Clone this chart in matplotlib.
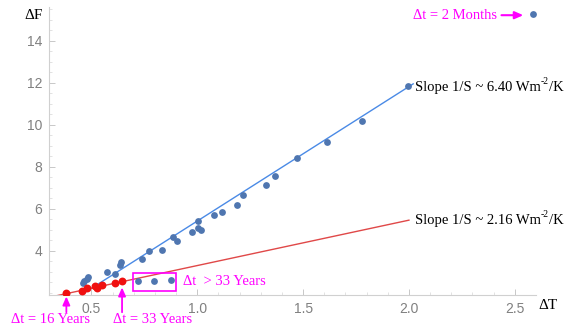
import matplotlib
matplotlib.use("Agg")
import matplotlib.pyplot as plt
from matplotlib.patches import Rectangle
from matplotlib.transforms import offset_copy
import numpy as np

# Forcing vs. temperature change, blue: all lags, red: short-lag subset
blue_dT = [0.461, 0.467, 0.480, 0.483, 0.574, 0.610, 0.634, 0.642, 0.739, 0.770,
           0.833, 0.884, 0.904, 0.975, 1.006, 1.006, 1.019, 1.077, 1.116, 1.187,
           1.214, 1.325, 1.365, 1.470, 1.612, 1.777, 1.997]
blue_dF = [2.49, 2.58, 2.66, 2.78, 3.00, 2.92, 3.34, 3.49, 3.60, 4.01,
           4.05, 4.66, 4.46, 4.88, 5.44, 5.09, 5.00, 5.71, 5.87, 6.19,
           6.66, 7.13, 7.57, 8.42, 9.17, 10.20, 11.86]

# Long-lag points enclosed by the box
long_dT = [0.718, 0.798, 0.877]
long_dF = [2.58, 2.55, 2.63]

# Two-month lag point
month_dT = [2.586]
month_dF = [15.25]

red_dT = [0.382, 0.456, 0.480, 0.516, 0.527, 0.550, 0.610, 0.645]
red_dF = [2.01, 2.10, 2.23, 2.31, 2.23, 2.39, 2.47, 2.58]

# Fitted slopes (W m^-2 / K)
slope_blue = 6.40
icpt_blue = -0.984
slope_red = 2.16
icpt_red = 1.14

x_ticks = [0.5, 1.0, 1.5, 2.0, 2.5]
y_ticks = [4, 6, 8, 10, 12, 14]

SERIF = "Liberation Serif"
SANS = "Liberation Sans"
MAG = "#ff00ff"
BLUE_PT = "#4f76b0"
BLUE_LN = "#4a8ae6"
RED_PT = "#f01010"
RED_LN = "#e04848"

fig = plt.figure(figsize=(5.69, 3.31), dpi=100)
ax = fig.add_axes([49 / 569, 36 / 331, (536 - 49) / 569, (295 - 7) / 331])
ax.set_xlim(0.3, 2.6)
ax.set_ylim(1.9, 15.6)

for s in ["top", "right"]:
    ax.spines[s].set_visible(False)
for s in ["left", "bottom"]:
    ax.spines[s].set_color("#d0d0d0")
    ax.spines[s].set_linewidth(0.8)

ax.set_xticks(x_ticks)
ax.set_xticklabels([f"{v:.1f}" for v in x_ticks])
ax.set_yticks(y_ticks)
ax.set_yticklabels([str(v) for v in y_ticks])
ax.set_xticks(np.arange(0.4, 2.6, 0.1), minor=True)
ax.set_yticks(np.arange(2.0, 15.6, 0.5), minor=True)
ax.tick_params(which="major", direction="in", length=4, width=0.7,
               color="#c8c8c8", labelcolor="#808080", labelsize=10, pad=5)
ax.tick_params(which="minor", direction="in", length=2, width=0.6, color="#dddddd")
for lab in ax.get_xticklabels() + ax.get_yticklabels():
    lab.set_fontfamily(SANS)

# Fit lines
xb = np.array([0.45, 2.02])
ax.plot(xb, slope_blue * xb + icpt_blue, color=BLUE_LN, lw=1.0, zorder=2)
xr = np.array([0.3, 2.0])
ax.plot(xr, slope_red * xr + icpt_red, color=RED_LN, lw=1.0, zorder=2)

# Data points
ax.scatter(blue_dT, blue_dF, s=24, color=BLUE_PT, zorder=3, linewidths=0)
ax.scatter(long_dT, long_dF, s=24, color=BLUE_PT, zorder=3, linewidths=0)
ax.scatter(month_dT, month_dF, s=24, color=BLUE_PT, zorder=3, linewidths=0)
ax.scatter(red_dT, red_dF, s=32, color=RED_PT, zorder=4, linewidths=0)

# Box around the long-lag points
ax.add_patch(Rectangle((0.699, 2.11), 0.202, 0.83, fill=False,
                       edgecolor=MAG, lw=1.2, zorder=5))
ax.text(0.934, 2.53, "Δt  > 33 Years", color=MAG, family=SERIF, fontsize=10.5,
        ha="left", va="center")

# Lag annotations
arrow = dict(arrowstyle="-|>,head_length=0.5,head_width=0.22", color=MAG, lw=1.3,
             shrinkA=0, shrinkB=0)
ax.annotate("", xy=(red_dT[0], 1.83), xytext=(red_dT[0], 1.08),
            arrowprops=arrow, annotation_clip=False)
ax.text(0.307, 0.72, "Δt = 16 Years", color=MAG, family=SERIF, fontsize=10.5,
        ha="center", va="center", clip_on=False)
ax.annotate("", xy=(red_dT[-1], 2.26), xytext=(red_dT[-1], 1.08),
            arrowprops=arrow, annotation_clip=False)
ax.text(0.788, 0.72, "Δt = 33 Years", color=MAG, family=SERIF, fontsize=10.5,
        ha="center", va="center", clip_on=False)

ax.text(2.415, 15.21, "Δt = 2 Months", color=MAG, family=SERIF, fontsize=10.5,
        ha="right", va="center")
ax.annotate("", xy=(2.54, 15.21), xytext=(2.437, 15.21),
            arrowprops=dict(arrowstyle="-|>,head_length=0.5,head_width=0.22",
                            color=MAG, lw=1.5, shrinkA=0, shrinkB=0))


def slope_label(x, y, value):
    """Write 'Slope 1/S ~ v Wm^-2/K' with a hyphen-style superscript."""
    renderer = fig.canvas.get_renderer()
    t1 = ax.text(x, y, f"Slope 1/S ~ {value:.2f} Wm", family=SERIF, fontsize=10.5,
                 ha="left", va="baseline", clip_on=False)
    w1 = t1.get_window_extent(renderer).width * 72 / fig.dpi
    sup = ax.text(x, y, "-2", family=SERIF, fontsize=7,
                  ha="left", va="baseline", clip_on=False,
                  transform=offset_copy(ax.transData, fig, x=w1, y=4.5, units="points"))
    w2 = sup.get_window_extent(renderer).width * 72 / fig.dpi
    ax.text(x, y, "/K", family=SERIF, fontsize=10.5, ha="left", va="baseline",
            clip_on=False,
            transform=offset_copy(ax.transData, fig, x=w1 + w2, y=0, units="points"))


fig.canvas.draw()
slope_label(2.028, 11.62, slope_blue)
slope_label(2.028, 5.30, slope_red)

# Axis labels
ax.text(0.226, 15.21, "ΔF", family=SERIF, fontsize=11, ha="center", va="center",
        clip_on=False)
ax.text(2.656, 1.39, "ΔT", family=SERIF, fontsize=11, ha="center", va="center",
        clip_on=False)

fig.savefig("out.png", dpi=100)
